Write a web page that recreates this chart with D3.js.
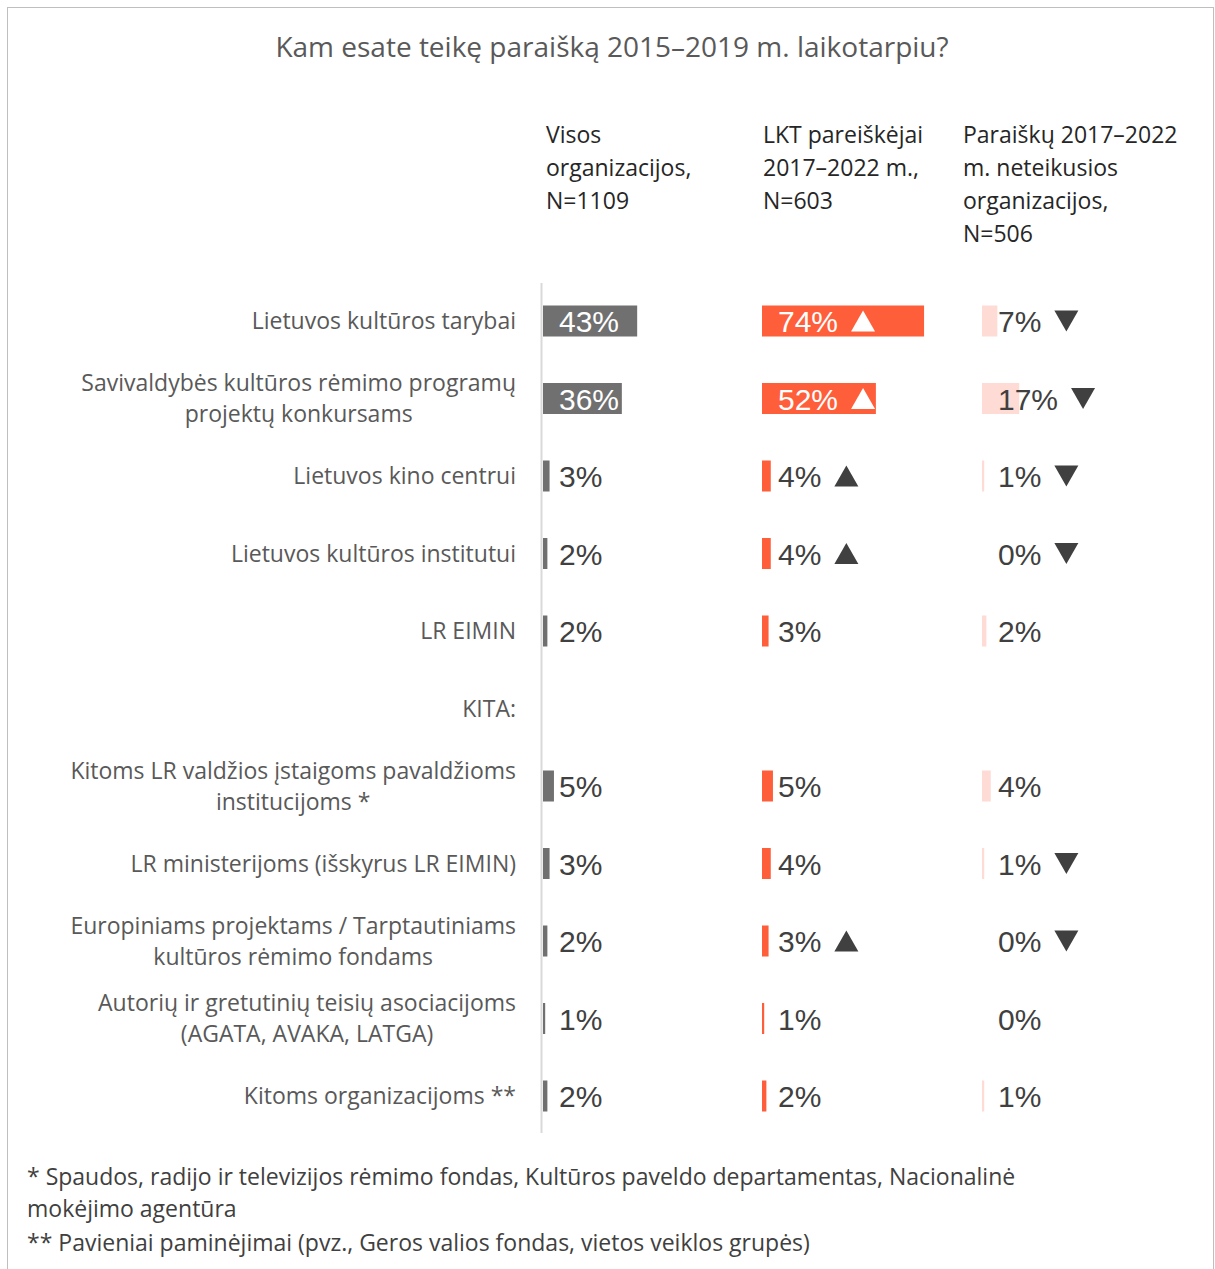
<!DOCTYPE html>
<html>
<head>
<meta charset="utf-8">
<script src="https://cdn.jsdelivr.net/npm/d3@7"></script>
<style>
  body { margin: 0; background: #fff; }
  svg { display: block; }
</style>
</head>
<body>
<div id="chart"></div>
<script>
// rows (| marks a line break in the label)
var categories = [
  "Lietuvos kultūros tarybai",
  "Savivaldybės kultūros rėmimo programų|projektų konkursams",
  "Lietuvos kino centrui",
  "Lietuvos kultūros institutui",
  "LR EIMIN",
  "KITA:",
  "Kitoms LR valdžios įstaigoms pavaldžioms|institucijoms *",
  "LR ministerijoms (išskyrus LR EIMIN)",
  "Europiniams projektams / Tarptautiniams|kultūros rėmimo fondams",
  "Autorių ir gretutinių teisių asociacijoms|(AGATA, AVAKA, LATGA)",
  "Kitoms organizacijoms **"
];

var seriesNames = [
  "Visos|organizacijos,|N=1109",
  "LKT pareiškėjai|2017–2022 m.,|N=603",
  "Paraiškų 2017–2022|m. neteikusios|organizacijos,|N=506"
];

var valuesAll = [43, 36, 3, 2, 2, null, 5, 3, 2, 1, 2];
var valuesLkt = [74, 52, 4, 4, 3, null, 5, 4, 3, 1, 2];
var valuesNon = [7, 17, 1, 0, 2, null, 4, 1, 0, 0, 1];

// significance marks: 1 = higher, -1 = lower, 0 = none
var marksAll = [0, 0, 0, 0, 0, 0, 0, 0, 0, 0, 0];
var marksLkt = [1, 1, 1, 1, 0, 0, 0, 0, 1, 0, 0];
var marksNon = [-1, -1, -1, -1, 0, 0, 0, -1, -1, 0, 0];

var title = "Kam esate teikę paraišką 2015–2019 m. laikotarpiu?";
var footnotes = [
  "* Spaudos, radijo ir televizijos rėmimo fondas, Kultūros paveldo departamentas, Nacionalinė",
  "mokėjimo agentūra",
  "** Pavieniai paminėjimai (pvz., Geros valios fondas, vietos veiklos grupės)"
];

var series = [
  { values: valuesAll, marks: marksAll, color: "#707070" },
  { values: valuesLkt, marks: marksLkt, color: "#ff5e3a" },
  { values: valuesNon, marks: marksNon, color: "#ffdbd5" }
];

var W = 1215, H = 1269;
var textFont = "'Open Sans', sans-serif";
var numFont = "'Liberation Sans', Arial, sans-serif";

var svg = d3.select("#chart").append("svg")
  .attr("width", W)
  .attr("height", H);

// outer frame
svg.append("rect")
  .attr("x", 7.5).attr("y", 7.5)
  .attr("width", 1206).attr("height", 1320)
  .attr("fill", "none")
  .attr("stroke", "#bfbfbf")
  .attr("stroke-width", 1);

// title
svg.append("text")
  .attr("x", 612).attr("y", 57)
  .attr("text-anchor", "middle")
  .style("font-family", textFont)
  .style("font-size", "28px")
  .style("fill", "#595959")
  .text(title);

// scales
var y = d3.scalePoint()
  .domain(d3.range(categories.length))
  .range([321, 1096]);

var x = d3.scaleLinear()
  .domain([0, 100])
  .range([0, 219]);

var colX = d3.scaleOrdinal()
  .domain([0, 1, 2])
  .range([543, 762, 982]);

var headX = [546, 763, 963];
var barH = 31;

// column headers
seriesNames.forEach(function (name, i) {
  var t = svg.append("text")
    .attr("x", headX[i]).attr("y", 143)
    .style("font-family", textFont)
    .style("font-size", "23px")
    .style("fill", "#262626");
  name.split("|").forEach(function (line, j) {
    t.append("tspan").attr("x", headX[i]).attr("dy", j === 0 ? 0 : 33).text(line);
  });
});

// vertical baseline
svg.append("line")
  .attr("x1", 541.5).attr("x2", 541.5)
  .attr("y1", 283).attr("y2", 1133)
  .attr("stroke", "#d9d9d9")
  .attr("stroke-width", 2);

// row labels: block right-aligned at 516, lines centred within the block
svg.selectAll(".rowLabel")
  .data(categories)
  .enter()
  .append("text")
  .attr("class", "rowLabel")
  .attr("text-anchor", "middle")
  .style("font-family", textFont)
  .style("font-size", "23px")
  .style("fill", "#595959")
  .each(function (d, i) {
    var lines = d.split("|");
    var t = d3.select(this);
    var y0 = y(i) + 8 - (lines.length - 1) * 15.5;
    var spans = lines.map(function (line, j) {
      return t.append("tspan").attr("x", 0).attr("y", y0 + j * 31).text(line);
    });
    var maxW = d3.max(spans, function (s) { return s.node().getComputedTextLength(); });
    var cx = 516 - maxW / 2;
    spans.forEach(function (s) { s.attr("x", cx); });
  });

// bars + labels + triangles
series.forEach(function (s, si) {
  var g = svg.append("g").attr("class", "series" + si);
  var rows = s.values.map(function (v, i) { return { v: v, i: i, m: s.marks[i] }; })
    .filter(function (d) { return d.v !== null; });

  g.selectAll("rect")
    .data(rows)
    .enter()
    .append("rect")
    .attr("x", colX(si))
    .attr("y", function (d) { return y(d.i) - barH / 2; })
    .attr("width", function (d) { return x(d.v); })
    .attr("height", barH)
    .attr("fill", s.color);

  g.selectAll("text")
    .data(rows)
    .enter()
    .append("text")
    .attr("x", colX(si) + 16)
    .attr("y", function (d) { return y(d.i) + 11; })
    .style("font-family", numFont)
    .style("font-size", "30px")
    .style("fill", function (d) { return (si < 2 && d.v >= 20) ? "#ffffff" : "#404040"; })
    .text(function (d) { return d.v + "%"; })
    .each(function (d) {
      if (!d.m) return;
      var len = this.getComputedTextLength();
      var cx = colX(si) + 16 + len + 13 + 12;
      var cy = y(d.i);
      var w = 24, h = 21;
      var p = d.m > 0
        ? "M" + (cx - w / 2) + "," + (cy + h / 2) + "L" + (cx + w / 2) + "," + (cy + h / 2) + "L" + cx + "," + (cy - h / 2) + "Z"
        : "M" + (cx - w / 2) + "," + (cy - h / 2) + "L" + (cx + w / 2) + "," + (cy - h / 2) + "L" + cx + "," + (cy + h / 2) + "Z";
      g.append("path")
        .attr("d", p)
        .attr("fill", (si < 2 && d.v >= 20) ? "#ffffff" : "#404040");
    });
});

// footnotes
svg.selectAll(".foot")
  .data(footnotes)
  .enter()
  .append("text")
  .attr("class", "foot")
  .attr("x", 27)
  .attr("y", function (d, i) { return [1185, 1217, 1251][i]; })
  .style("font-family", textFont)
  .style("font-size", "23px")
  .style("fill", "#404040")
  .text(function (d) { return d; });
</script>
</body>
</html>
